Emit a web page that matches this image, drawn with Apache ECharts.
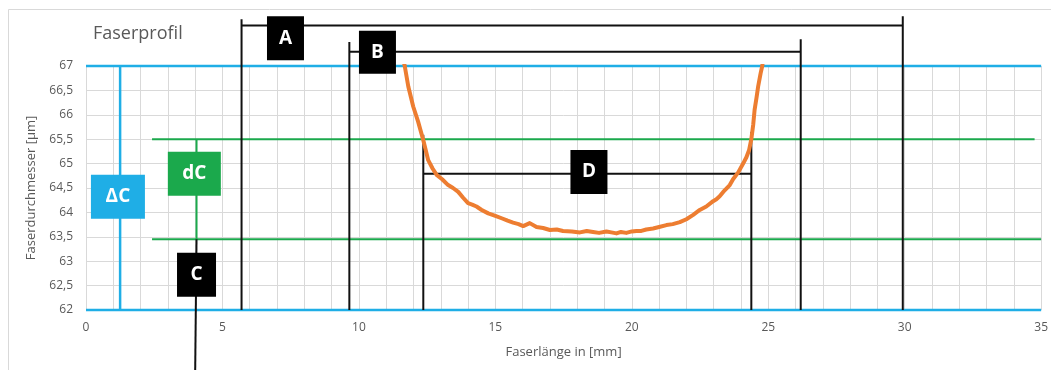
<!DOCTYPE html>
<html>
<head>
<meta charset="utf-8">
<script src="https://cdn.jsdelivr.net/npm/echarts@6/dist/echarts.min.js"></script>
<style>
  html, body { margin: 0; padding: 0; background: #fff; }
  #chart { width: 1051px; height: 370px; }
</style>
</head>
<body>
<div id="chart"></div>
<script>
// Faserprofil: Durchmesser über Länge, mit Bemaßungen A, B, C, D, dC, ΔC
const profile = [
  [11.62, 67.15], [11.68, 67.0], [11.81, 66.58], [11.99, 66.17], [12.17, 65.86], [12.36, 65.48],
  [12.54, 65.07], [12.7, 64.9], [12.85, 64.77], [13.05, 64.68], [13.27, 64.56], [13.45, 64.5],
  [13.64, 64.42], [13.82, 64.3], [14.0, 64.19], [14.15, 64.16], [14.31, 64.12], [14.5, 64.05],
  [14.74, 63.98], [15.0, 63.93], [15.23, 63.88], [15.45, 63.83], [15.65, 63.79], [15.85, 63.76],
  [16.02, 63.72], [16.26, 63.78], [16.51, 63.7], [16.75, 63.68], [17.0, 63.64], [17.25, 63.65],
  [17.48, 63.62], [17.8, 63.61], [18.1, 63.59], [18.35, 63.62], [18.58, 63.6], [18.8, 63.58],
  [19.07, 63.61], [19.25, 63.59], [19.44, 63.57], [19.6, 63.6], [19.8, 63.58], [20.0, 63.61],
  [20.17, 63.62], [20.35, 63.62], [20.53, 63.65], [20.78, 63.67], [21.0, 63.7], [21.27, 63.74],
  [21.5, 63.76], [21.76, 63.8], [22.0, 63.86], [22.25, 63.95], [22.49, 64.05], [22.73, 64.12],
  [22.98, 64.23], [23.1, 64.27], [23.22, 64.33], [23.35, 64.42], [23.59, 64.56], [23.71, 64.68],
  [23.9, 64.82], [24.08, 65.0], [24.2, 65.13], [24.3, 65.28], [24.38, 65.5], [24.45, 65.8],
  [24.5, 66.1], [24.57, 66.35], [24.63, 66.58], [24.72, 66.85], [24.78, 67.0], [24.82, 67.15]
];

// Bemaßungslinien (Datenkoordinaten)
const blueLines = [
  [[0, 67], [35, 67]],
  [[0, 62], [35, 62]],
  [[1.25, 62], [1.25, 67]]
];
const greenLines = [
  [[2.42, 65.5], [34.76, 65.5]],
  [[2.42, 63.45], [35, 63.45]],
  [[4.05, 65.5], [4.05, 63.45]]
];
const blackLines = [
  // A
  [[5.7, 62], [5.7, 67.96]],
  [[5.7, 67.83], [29.93, 67.83]],
  [[29.93, 62], [29.93, 68.02]],
  // B
  [[9.65, 62], [9.65, 67.49]],
  [[9.65, 67.29], [26.19, 67.29]],
  [[26.19, 62], [26.19, 67.55]],
  // D
  [[12.36, 62], [12.36, 65.59]],
  [[12.36, 64.79], [24.38, 64.79]],
  [[24.38, 62], [24.38, 65.65]],
  // C
  [[4.05, 63.45], [4.0, 60.7]]
];

const boxLabels = ['A', 'B', 'ΔC', 'dC', 'C', 'D'];
const boxX = [7.31, 10.68, 1.17, 3.97, 4.05, 18.43];
const boxY = [67.57, 67.28, 64.32, 64.79, 62.72, 64.83];

const xTickStep = 5;

const BLUE = '#1FAEE6', GREEN = '#1BA94C', BLACK = '#000000', ORANGE = '#ED7D31';
const TEXT = '#595959', GRID = '#d9d9d9';
const boxColors = [BLACK, BLACK, BLUE, GREEN, BLACK, BLACK];
const boxSizes = [[37, 44], [37, 43], [54, 44], [53, 44], [39, 44], [37, 44]];

function segSeries(list, color, width, z) {
  return list.map(seg => ({
    type: 'line', data: seg, symbol: 'none', clip: false, silent: true, z: z,
    lineStyle: { color: color, width: width }, animation: false
  }));
}

const chart = echarts.init(document.getElementById('chart'));
chart.setOption({
  backgroundColor: '#fff',
  animation: false,
  textStyle: { fontFamily: 'Open Sans' },
  graphic: [{
    type: 'rect', shape: { x: 8.5, y: 9.5, width: 1200, height: 500 },
    style: { fill: 'none', stroke: GRID, lineWidth: 1 }, silent: true
  }],
  title: {
    text: 'Faserprofil', left: 88, top: 20,
    textStyle: { color: TEXT, fontSize: 18, fontWeight: 'normal', fontFamily: 'Open Sans' }
  },
  grid: { left: 86, right: 9, top: 66, bottom: 60 },
  xAxis: {
    type: 'value', min: 0, max: 35, interval: 1,
    name: 'Faserlänge in [mm]', nameLocation: 'middle', nameGap: 36,
    nameTextStyle: { color: TEXT, fontSize: 13 },
    axisLine: { show: false }, axisTick: { show: false },
    axisLabel: {
      color: TEXT, fontSize: 12, margin: 12,
      formatter: v => (v % xTickStep === 0 ? String(v) : '')
    },
    splitLine: { show: true, lineStyle: { color: GRID, width: 1 } }
  },
  yAxis: {
    type: 'value', min: 62, max: 67, interval: 0.5,
    name: 'Faserdurchmesser [µm]', nameLocation: 'middle', nameGap: 48, nameRotate: 90,
    nameTextStyle: { color: TEXT, fontSize: 13 },
    axisLine: { show: false }, axisTick: { show: false },
    axisLabel: { color: TEXT, fontSize: 12, margin: 13, formatter: v => String(v).replace('.', ',') },
    splitLine: { show: true, lineStyle: { color: GRID, width: 1 } }
  },
  series: [
    ...segSeries(greenLines, GREEN, 2, 3),
    ...segSeries(blackLines, '#111111', 2, 4),
    ...segSeries(blueLines, BLUE, 2.5, 3),
    {
      type: 'line', data: profile, symbol: 'none', z: 5,
      lineStyle: { color: ORANGE, width: 4, join: 'round' }, animation: false
    },
    {
      type: 'scatter', clip: false, z: 10, silent: true,
      data: boxLabels.map((t, i) => ({
        name: t, value: [boxX[i], boxY[i]],
        symbolSize: boxSizes[i],
        itemStyle: { color: boxColors[i], opacity: 1 }
      })),
      symbol: 'rect',
      label: {
        show: true, position: 'inside', formatter: p => p.name,
        color: '#fff', fontSize: 19, fontWeight: 'bold', fontFamily: 'Open Sans'
      }
    }
  ]
});
</script>
</body>
</html>
